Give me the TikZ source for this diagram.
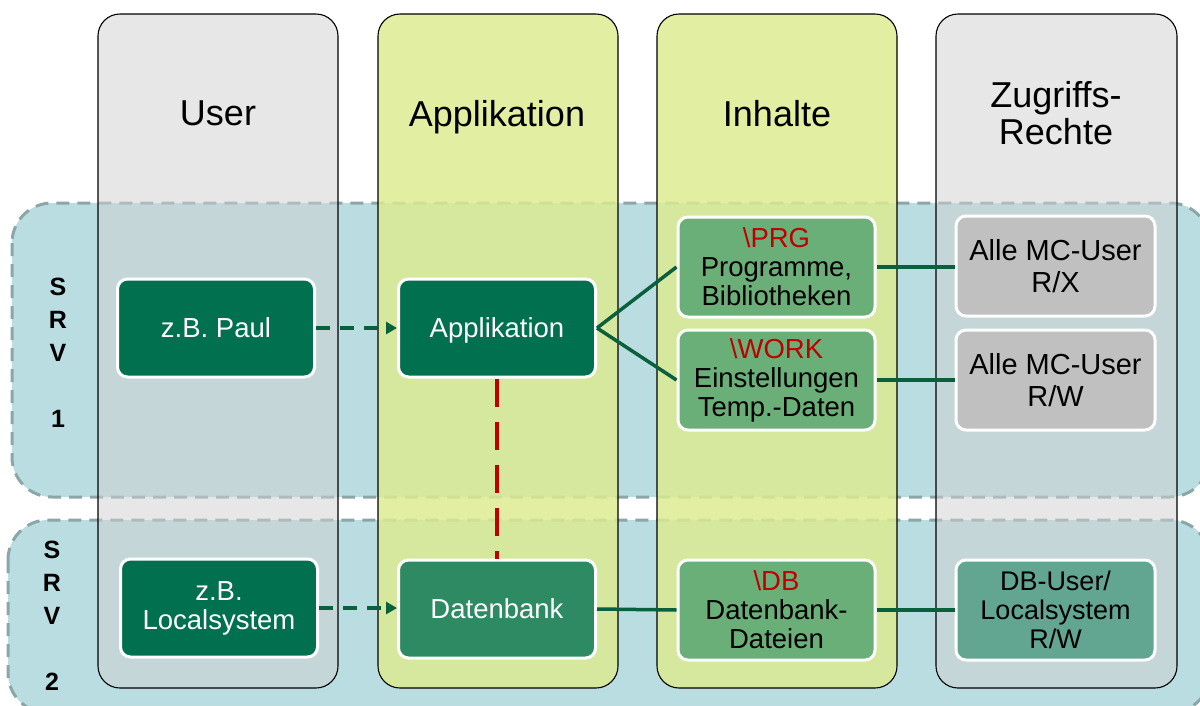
\documentclass[tikz,border=0pt]{standalone}
\usepackage{fontspec}
\setmainfont{Liberation Sans}
\usetikzlibrary{arrows.meta}
\definecolor{srvfill}{RGB}{185,221,225}
\definecolor{srvline}{RGB}{140,166,168}
\definecolor{colgray}{RGB}{209,209,209}
\definecolor{colyel}{RGB}{221,235,144}
\definecolor{dkgreen}{RGB}{0,112,79}
\definecolor{midgreen}{RGB}{46,138,98}
\definecolor{ltgreen}{RGB}{106,174,120}
\definecolor{boxgray}{RGB}{192,192,192}
\definecolor{tealbox}{RGB}{98,166,146}
\definecolor{linegreen}{RGB}{10,95,60}
\definecolor{redtxt}{RGB}{192,0,0}
\tikzset{
  srvregion/.style={fill=srvfill, draw=srvline, line width=3pt, dash pattern=on 13pt off 8pt, rounded corners=40pt},
  graycol/.style={fill=colgray, fill opacity=0.5, draw=black, draw opacity=1, line width=1.1pt, rounded corners=22pt},
  yelcol/.style={fill=colyel, fill opacity=0.83, draw=black, draw opacity=1, line width=1.1pt, rounded corners=22pt},
  header/.style={font=\fontsize{36pt}{37pt}\selectfont, align=center, text=black},
  srvlabel/.style={font=\bfseries\fontsize{25pt}{33pt}\selectfont, align=center, text=black},
  boxbase/.style={rounded corners=10pt, draw=white, line width=3pt, inner sep=0pt,
    minimum width=197pt, minimum height=98pt, align=center,
    font=\fontsize{27.5pt}{29pt}\selectfont},
  dkbox/.style={boxbase, fill=dkgreen, text=white},
  midbox/.style={boxbase, fill=midgreen, text=white},
  ltbox/.style={boxbase, fill=ltgreen, text=black, minimum height=100pt},
  graybox/.style={boxbase, fill=boxgray, text=black, minimum width=199pt, minimum height=100pt,
    font=\fontsize{29pt}{32pt}\selectfont},
  tealboxst/.style={boxbase, fill=tealbox, text=black, minimum width=199pt, minimum height=100pt,
    font=\fontsize{27pt}{29pt}\selectfont},
  dasharrow/.style={draw=linegreen, line width=4pt, dash pattern=on 14pt off 10pt,
    -{Triangle[length=11pt,width=12pt]}},
  solidlink/.style={draw=linegreen, line width=3.5pt},
  redlink/.style={draw=redtxt, line width=4pt, dash pattern=on 28pt off 15pt}
}
\newcommand{\redpath}[1]{\textcolor{redtxt}{\textbackslash #1}}
\begin{document}
\begin{tikzpicture}[x=1pt,y=-1pt]
\useasboundingbox (0,0) rectangle (1200,705);
\fill[white] (0,0) rectangle (1200,705);
\clip (0,0) rectangle (1200,705);

% server regions
\path[srvregion] (12,203) rectangle (1210,497);
\path[srvregion] (8,520) rectangle (1210,713);

% columns
\path[graycol] (98,14) rectangle (338,688);
\path[yelcol] (378,14) rectangle (618,688);
\path[yelcol] (657,14) rectangle (897,688);
\path[graycol] (936,14) rectangle (1177,688);

% headers
\node[header, text depth=0pt] (hUser) at (218,113) {User};
\node[header, text depth=0pt] (hApp) at (497,113) {Applikation};
\node[header, text depth=0pt] (hInh) at (777,113) {Inhalte};
\node[header] (hZug) at (1056,113) {Zugriffs-\\Rechte};

% server labels
\node[srvlabel] (srv1) at (58,353) {S\\R\\V\\\mbox{}\\1};
\node[srvlabel] (srv2) at (52,616) {S\\R\\V\\\mbox{}\\2};

% boxes row 1
\node[dkbox, text depth=0pt] (paul) at (216,328) {z.B. Paul};
\node[dkbox, text depth=0pt] (app) at (497,328) {Applikation};
\node[ltbox] (prg) at (776.5,267) {\redpath{PRG}\\Programme,\\Bibliotheken};
\node[ltbox] (work) at (776.5,380) {\redpath{WORK}\\Einstellungen\\Temp.-Daten};
\node[graybox] (alle1) at (1055.5,266) {Alle MC-User\\R/X};
\node[graybox] (alle2) at (1055.5,380) {Alle MC-User\\R/W};

% boxes row 2
\node[dkbox] (local) at (219,608) {z.B.\\Localsystem};
\node[midbox, text depth=0pt] (db) at (497,609) {Datenbank};
\node[ltbox] (dbf) at (776.5,610) {\redpath{DB}\\Datenbank-\\Dateien};
\node[tealboxst] (dbuser) at (1055.5,610) {DB-User/\\Localsystem\\R/W};

% connectors
\draw[dasharrow] (paul.east) -- (app.west);
\draw[dasharrow] (local.east) -- (local.east -| db.west);
\draw[solidlink] (app.east) -- (prg.west);
\draw[solidlink] (app.east) -- (work.west);
\draw[solidlink] (prg.east) -- (alle1.west |- prg.east);
\draw[solidlink] (work.east) -- (alle2.west |- work.east);
\draw[solidlink] (db.east) -- (dbf.west);
\draw[solidlink] (dbf.east) -- (dbuser.west);
\draw[redlink] (app.south) -- (db.north);
\end{tikzpicture}
\end{document}
